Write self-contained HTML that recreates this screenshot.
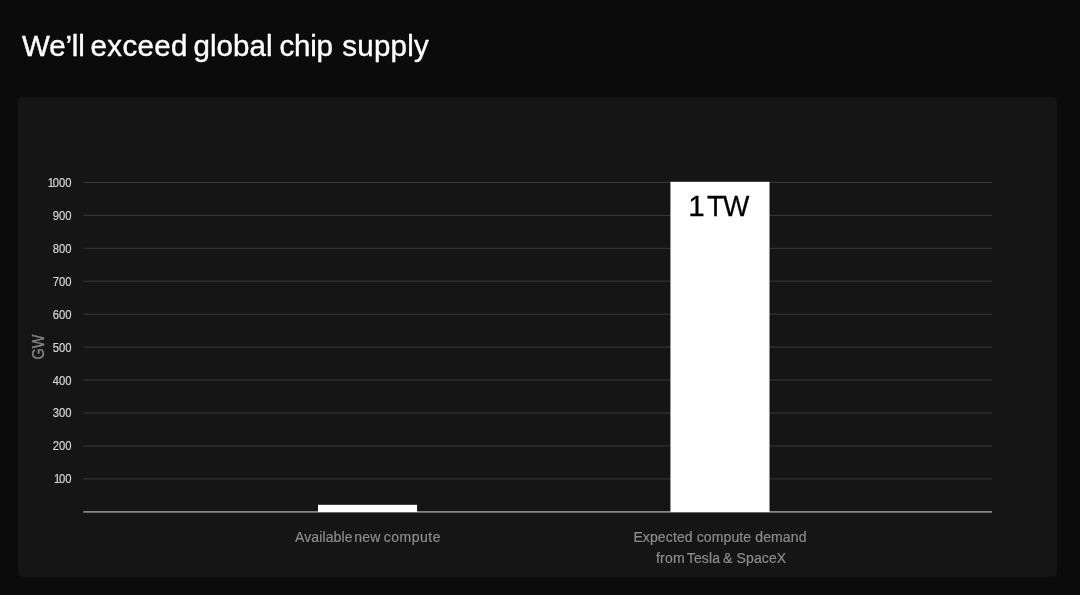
<!DOCTYPE html>
<html lang="en">
<head>
<meta charset="utf-8">
<title>We'll exceed global chip supply</title>
<style>
  html, body { margin: 0; padding: 0; }
  body {
    width: 1080px; height: 595px; overflow: hidden; position: relative;
    background: #0b0b0b;
    font-family: "Liberation Sans", sans-serif;
    color: #fff;
  }
  .title {
    position: absolute; left: 22px; top: 27.5px;
    font-size: 29.5px; line-height: 36px; white-space: nowrap;
    color: #fff; letter-spacing: 0.38px; -webkit-text-stroke: 0.4px #fff;
  }
  .title span { position: absolute; top: 0; }
  .card {
    position: absolute; left: 17.5px; top: 96.5px; width: 1039.3px; height: 480.3px;
    background: #151515; border-radius: 5px;
  }
  .gridsvg { position: absolute; left: 0; top: 0; }
  .yl {
    position: absolute; right: 1008px; width: 40px; text-align: right;
    font-size: 13px; line-height: 14px; color: #d6d6d6;
    -webkit-text-stroke: 0.2px #d6d6d6;
    transform: translateX(-0.4px) scaleX(0.865); transform-origin: 100% 50%;
  }
  .one { letter-spacing: -1.5px; }
  .gw {
    position: absolute; left: 19.3px; top: 338px; width: 40px; height: 18px;
    font-size: 16px; line-height: 18px; text-align: center; color: #858585;
    -webkit-text-stroke: 0.4px #858585;
    transform: rotate(-90deg) scaleX(0.9); transform-origin: 50% 50%;
  }
  .tw {
    position: absolute; left: 670px; width: 99px; top: 190px; height: 32px; text-align: left;
    font-size: 29.5px; line-height: 32px; color: #000; white-space: nowrap;
    -webkit-text-stroke: 0.3px #000;
  }
  .tw > span { position: absolute; top: 0; }
  .xl {
    position: absolute; text-align: center; font-size: 14px; line-height: 21px;
    color: #8c8c8c; white-space: nowrap; letter-spacing: 0.12px; -webkit-text-stroke: 0.2px #8c8c8c;
  }
</style>
</head>
<body>
  <div class="title"><span style="left:0px;letter-spacing:-0.15px">We’ll</span> <span style="left:68.5px;letter-spacing:0.36px">exceed</span> <span style="left:171.5px;letter-spacing:0.08px">global</span> <span style="left:257.5px;letter-spacing:-0.2px">chip</span> <span style="left:320.3px;letter-spacing:0.24px">supply</span></div>
  <div class="card"></div>

  <svg class="gridsvg" width="1080" height="595" viewBox="0 0 1080 595">
    <line x1="83.3" x2="992" y1="182.40" y2="182.40" stroke="#3a3a3a" stroke-width="1"/>
    <line x1="83.3" x2="992" y1="215.34" y2="215.34" stroke="#3a3a3a" stroke-width="1"/>
    <line x1="83.3" x2="992" y1="248.28" y2="248.28" stroke="#3a3a3a" stroke-width="1"/>
    <line x1="83.3" x2="992" y1="281.22" y2="281.22" stroke="#3a3a3a" stroke-width="1"/>
    <line x1="83.3" x2="992" y1="314.16" y2="314.16" stroke="#3a3a3a" stroke-width="1"/>
    <line x1="83.3" x2="992" y1="347.10" y2="347.10" stroke="#3a3a3a" stroke-width="1"/>
    <line x1="83.3" x2="992" y1="380.04" y2="380.04" stroke="#3a3a3a" stroke-width="1"/>
    <line x1="83.3" x2="992" y1="412.98" y2="412.98" stroke="#3a3a3a" stroke-width="1"/>
    <line x1="83.3" x2="992" y1="445.92" y2="445.92" stroke="#3a3a3a" stroke-width="1"/>
    <line x1="83.3" x2="992" y1="478.86" y2="478.86" stroke="#3a3a3a" stroke-width="1"/>
    <line x1="83.3" x2="992" y1="511.9" y2="511.9" stroke="#858585" stroke-width="1.6"/>
    <rect x="318" y="504.8" width="99.05" height="7.2" fill="#ffffff"/>
    <rect x="670.45" y="181.8" width="99.05" height="330.2" fill="#ffffff"/>
  </svg>
  <div class="yl" style="top:176px"><span class="one">1</span>000</div>
  <div class="yl" style="top:209px">900</div>
  <div class="yl" style="top:242px">800</div>
  <div class="yl" style="top:275px">700</div>
  <div class="yl" style="top:308px">600</div>
  <div class="yl" style="top:341px">500</div>
  <div class="yl" style="top:374px">400</div>
  <div class="yl" style="top:406px">300</div>
  <div class="yl" style="top:439px">200</div>
  <div class="yl" style="top:472px"><span class="one">1</span>00</div>

  <div class="gw">GW</div>
  <div class="tw"><span style="left:18.2px">1</span> <span style="left:37.3px; transform:scaleX(0.945); transform-origin:0 50%"><span style="letter-spacing:-1.1px">T</span>W</span></div>

  <div class="xl" style="left:295px; width:200px; top:527px; text-align:left">Available <span style="position:relative; left:-2.3px">new</span> <span style="position:relative; left:-3px; letter-spacing:0.5px">compute</span></div>
  <div class="xl" style="left:620px; width:200px; top:527px">Expected compute demand<br><span style="position:relative; left:2.2px; letter-spacing:0.3px; margin-right:-0.9px">from</span> <span style="position:relative; left:1px">Tesla</span> &amp; SpaceX</div>
</body>
</html>
